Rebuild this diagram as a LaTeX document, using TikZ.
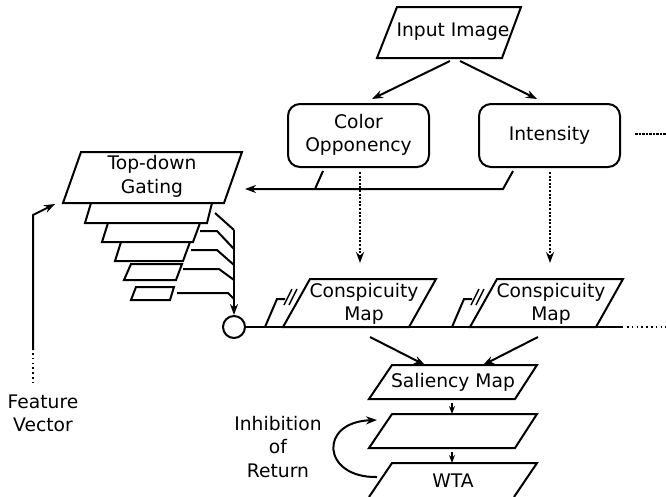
\documentclass[tikz,border=0pt]{standalone}
\usepackage{fontspec}
\setmainfont{DejaVu Sans}
\usetikzlibrary{arrows.meta}
\begin{document}
\begin{tikzpicture}[x=1pt,y=-1pt,line width=2pt,line join=miter,
  lbl/.style={inner sep=0pt,align=center,font=\fontsize{18.7}{23.5}\selectfont},
  box/.style={draw},
  rbox/.style={draw,rounded corners=12pt},
  arr/.style={-{Stealth[length=11pt,width=8pt]}},
  sarr/.style={-{Stealth[length=8pt,width=6pt]},line width=1.5pt},
  dotarr/.style={-{Stealth[length=11pt,width=8pt]},dash pattern=on 2pt off 1.6pt,line width=2.4pt},
  dotline/.style={dash pattern=on 1.6pt off 3.2pt,line width=1.6pt},
]
\useasboundingbox (0,0) rectangle (666,496);

% Input image
\draw[box] (377,58)--(397,7)--(521,7)--(502,58)--cycle;
\node[lbl] (inp) at (453,32) {Input Image};
\coordinate (inpA) at (450,61);
\coordinate (inpB) at (460,61);

% feature channels
\draw[rbox] (288,104) rectangle (429,167);
\node[lbl] (col) at (358.5,135) {Color\\Opponency};
\draw[rbox] (479,104) rectangle (620,167);
\node[lbl] (int) at (549.5,135) {Intensity};
\coordinate (colIn) at (372,99);
\coordinate (intIn) at (537,99);
\draw[arr] (inpA) -- (colIn);
\draw[arr] (inpB) -- (intIn);
\coordinate (dashA) at (635,134);
\coordinate (dashB) at (666,134);
\draw[line width=1.2pt,dash pattern=on 2.5pt off 1pt] (dashA) -- (dashB);

% bus to top-down gating
\coordinate (colOut) at (323,171);
\coordinate (colBus) at (315,189);
\coordinate (intOut) at (513,171);
\coordinate (intBus) at (503,189);
\coordinate (gateIn) at (245,189);
\draw (colOut) -- (colBus);
\draw[arr] (intOut) -- (intBus) -- (gateIn);

% dotted arrows to conspicuity maps
\coordinate (colD) at (360,172);
\coordinate (colDe) at (360,263);
\coordinate (intD) at (550,172);
\coordinate (intDe) at (550,263);
\draw[dotarr] (colD) -- (colDe);
\draw[dotarr] (intD) -- (intDe);

% top-down gating pyramid
\draw[box] (63,203)--(81,152)--(242,152)--(224,203)--cycle;
\node[lbl] (gate) at (152,176.5) {Top-down\\Gating};
\draw[box] (91,203)--(85,223)--(207,223)--(212,203);
\draw[box] (108,223)--(102,242)--(193,242)--(200,223);
\draw[box] (121,242)--(115,261)--(183,261)--(190,242);
\draw[box] (131,264)--(124,280)--(176,280)--(182,264)--cycle;
\draw[box] (136,287)--(131,300)--(170,300)--(174,287)--cycle;

% merging lines
\node[draw,circle,minimum size=22pt,inner sep=0pt] (circ) at (234,327) {};
\coordinate (mtop) at (234,230);
\draw (215,213) -- (mtop);
\draw (200,231)--(217,231)--(234,249);
\draw (191,250)--(217,250)--(234,265);
\draw (183,269)--(219,269)--(234,280);
\draw (177,293)--(228,293)--(234,299);
\draw[arr] (mtop) -- (circ.north);

% feature vector
\coordinate (fvA) at (33,350);
\coordinate (fvB) at (33,215);
\coordinate (fvC) at (55,204);
\draw[arr] (fvA) -- (fvB) -- (fvC);
\draw[dotline] (33,353) -- (33,386);
\node[lbl] (fv) at (43,413.5) {Feature\\Vector};

% baseline with conspicuity maps
\coordinate (bEnd) at (623,327);
\draw (circ.east) -- (bEnd);
\draw[dotline] (627,327) -- (666,327);

\draw (265,327)--(277,299)--(285,299);
\draw[line width=1.4pt] (284,305)--(292,289) (289,305)--(297,289);
\draw[box,fill=white] (283,327)--(310,279)--(436,279)--(409,327)--cycle;
\node[lbl] (cm1) at (364,304) {Conspicuity\\Map};

\draw (452,327)--(464,299)--(472,299);
\draw[line width=1.4pt] (471,305)--(479,289) (476,305)--(484,289);
\draw[box,fill=white] (470,327)--(497,279)--(623,279)--(596,327)--cycle;
\node[lbl] (cm2) at (551,304) {Conspicuity\\Map};

% saliency etc.
\draw[box] (369,399)--(392,365)--(537,365)--(515,399)--cycle;
\node[lbl] (sal) at (453,382) {Saliency Map};
\coordinate (cm1o) at (370,337);
\coordinate (cm2o) at (538,337);
\draw[arr] (cm1o) -- (425,365);
\draw[arr] (cm2o) -- (483,365);

\draw[box] (369,448)--(392,414)--(537,414)--(515,448)--cycle;
\coordinate (blank) at (453,431);
\draw[box] (369,497)--(392,463)--(537,463)--(514,497);
\node[lbl] (wta) at (453,481) {WTA};
\draw[sarr] (452,403) -- (452,414);
\draw[sarr] (452,452) -- (452,463);

% inhibition of return
\coordinate (iorA) at (377,477);
\coordinate (iorB) at (377,420);
\draw[arr] (iorA) .. controls (322,478) and (318,422) .. (iorB);
\node[lbl] (ior) at (278,447) {Inhibition\\of\\Return};
\end{tikzpicture}
\end{document}
